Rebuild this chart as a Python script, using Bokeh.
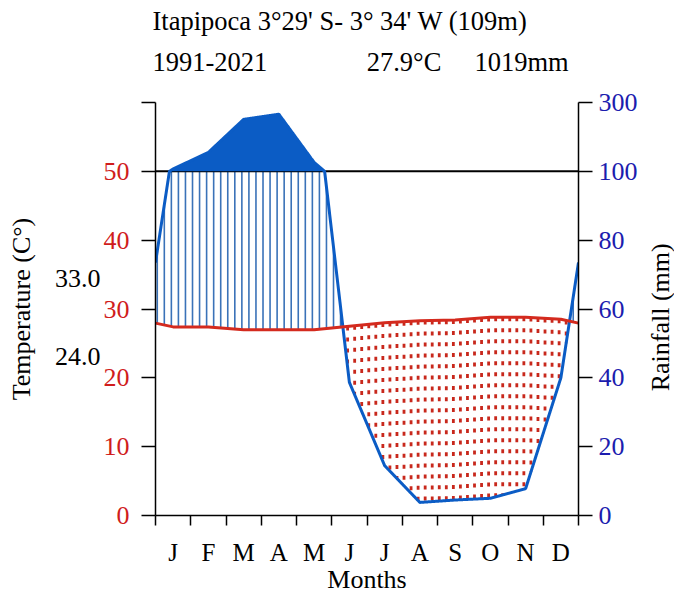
import math
import numpy as np
from bokeh.plotting import figure
from bokeh.layouts import row
from bokeh.models import LinearAxis, FixedTicker, Range1d, Title
from bokeh.core.properties import value
from bokeh.embed import file_html
from bokeh.resources import INLINE

# ---------------- data ----------------
months = ["J", "F", "M", "A", "M", "J", "J", "A", "S", "O", "N", "D"]
temp_c = [27.4, 27.4, 27.0, 27.0, 27.0, 27.5, 28.0, 28.3, 28.4, 28.8, 28.8, 28.5]
rain_mm = [107, 155, 251, 266, 126, 38.7, 14.5, 3.8, 4.5, 5.0, 7.8, 40.0]
station = "Itapipoca 3°29' S- 3° 34' W (109m)"
period = "1991-2021"
mean_temp_txt = "27.9°C"
annual_rain_txt = "1019mm"
extreme_txt = ["33.0", "24.0"]
extreme_pos = [34.4, 23.1]          # vertical placement (temperature scale)
temp_ticks = [0, 10, 20, 30, 40, 50, 60]
temp_tick_labels = ["0", "10", "20", "30", "40", "50", ""]
rain_tick_labels = ["0", "20", "40", "60", "80", "100", "300"]
rain_title = "Rainfall (mm)"

FONT = "Liberation Serif"
RED = "#d42a1e"
BLUE = "#0b5cc5"
HATCH = "#3a72b8"
DOT = "#c8281c"
RED_TXT = "#d01c1c"
BLUE_TXT = "#1c1cae"
NB = "\u00a0"

# ---------------- derived curves ----------------
xm = [0.0] + [i + 0.5 for i in range(12)] + [12.0]
edge_t = (temp_c[0] + temp_c[-1]) / 2
edge_p = (rain_mm[0] + rain_mm[-1]) / 2
T = [edge_t] + temp_c + [edge_t]
P = [edge_p] + rain_mm + [edge_p]

def scale_rain(mm):
    mm = np.asarray(mm, dtype=float)
    return np.where(mm <= 100, mm / 2.0, 50 + (mm - 100) / 20.0)

xs = np.linspace(0, 12, 2401)
Pd = np.interp(xs, xm, P)
Rs = scale_rain(Pd)

xh = np.arange(0.05, 12, 0.2)
th = np.interp(xh, xm, T)
rh = scale_rain(np.interp(xh, xm, P))
rh_c = np.minimum(rh, 50)
wet = rh_c > th
dry = th > rh

W_MAIN, W_SIDE, H = 644, 30, 596

p = figure(width=W_MAIN, height=H, x_range=Range1d(0, 12), y_range=Range1d(0, 60),
           output_backend="svg", toolbar_location=None,
           x_axis_type=None, y_axis_type=None,
           min_border_left=155, min_border_right=66, min_border_top=102, min_border_bottom=81)
p.outline_line_color = None
p.background_fill_color = "white"
p.border_fill_color = "white"

p.segment(x0=xh[wet], y0=th[wet], x1=xh[wet], y1=rh_c[wet], line_color=HATCH, line_width=1.6)
p.segment(x0=xh[dry], y0=th[dry], x1=xh[dry], y1=rh[dry], line_color=DOT, line_width=2.8,
          line_dash="4 7")
p.line(x=[0, 12], y=[50, 50], line_color="black", line_width=2)
p.varea(x=xs, y1=np.full_like(xs, 50.0), y2=np.maximum(Rs, 50), fill_color=BLUE)
p.line(x=xs, y=Rs, line_color=BLUE, line_width=3)
p.line(x=xm, y=T, line_color=RED, line_width=3)

# ---------------- axes ----------------
xa = LinearAxis(
    ticker=FixedTicker(ticks=[i + 0.5 for i in range(12)], minor_ticks=list(range(13))),
    major_label_overrides={i + 0.5: m for i, m in enumerate(months)},
    major_tick_out=0, major_tick_in=0, minor_tick_out=10, minor_tick_in=0,
    minor_tick_line_width=1.5, axis_line_width=1.5,
    major_label_standoff=13, major_label_text_font=FONT, major_label_text_font_size="25px",
    major_label_text_color="black",
    axis_label="Months", axis_label_text_font=FONT, axis_label_text_font_size="26px",
    axis_label_text_font_style="normal", axis_label_text_color="black", axis_label_standoff=-4)
p.add_layout(xa, "below")

ya = LinearAxis(
    ticker=FixedTicker(ticks=temp_ticks, minor_ticks=[]),
    major_label_overrides={t: l for t, l in zip(temp_ticks, temp_tick_labels)},
    major_tick_out=14, major_tick_in=0, major_tick_line_width=1.5, axis_line_width=1.5,
    major_label_standoff=12, major_label_text_font=FONT, major_label_text_font_size="26px",
    major_label_text_color=RED_TXT)
p.add_layout(ya, "left")

ea = LinearAxis(
    ticker=FixedTicker(ticks=extreme_pos, minor_ticks=[]),
    major_label_overrides={v: t for v, t in zip(extreme_pos, extreme_txt)},
    major_tick_out=0, major_tick_in=0, axis_line_color=None, major_tick_line_color=None,
    major_label_standoff=0, major_label_text_font=FONT, major_label_text_font_size="26px",
    major_label_text_color="black",
    axis_label="Temperature (C°)", axis_label_text_font=FONT, axis_label_text_font_size="26px",
    axis_label_text_font_style="normal", axis_label_text_color="black", axis_label_standoff=16)
p.add_layout(ea, "left")

ra = LinearAxis(
    ticker=FixedTicker(ticks=temp_ticks, minor_ticks=[]),
    major_label_overrides={t: l for t, l in zip(temp_ticks, rain_tick_labels)},
    major_tick_out=14, major_tick_in=0, major_tick_line_width=1.5, axis_line_width=1.5,
    major_label_standoff=6, major_label_text_font=FONT, major_label_text_font_size="26px",
    major_label_text_color=BLUE_TXT)
p.add_layout(ra, "right")

# ---------------- header (stacked titles, nearest to frame first) ----------------
p.add_layout(Title(text=NB, standoff=17, text_font=FONT, text_font_size="1px",
                   text_color="white"), "above")
line2 = period + NB * 15 + mean_temp_txt + NB * 5 + annual_rain_txt
p.add_layout(Title(text=line2, align="left", offset=-3, standoff=11, text_font=FONT,
                   text_font_size="26.5px", text_font_style="normal", text_color="black"), "above")
p.add_layout(Title(text=station, align="left", offset=-3, standoff=7, text_font=FONT,
                   text_font_size="26.5px", text_font_style="normal", text_color="black"), "above")

# ---------------- right-hand rotated axis title ----------------
side = figure(width=W_SIDE, height=H, x_range=Range1d(W_MAIN, W_MAIN + W_SIDE),
              y_range=Range1d(H, 0), output_backend="svg", toolbar_location=None,
              x_axis_type=None, y_axis_type=None, min_border=0)
side.outline_line_color = None
side.grid.visible = False
side.text(x=[660], y=[310], text=[rain_title], angle=math.pi / 2,
          text_font=value(FONT), text_font_size="26px", text_color="black",
          text_align="center", text_baseline="middle")

layout = row(p, side, spacing=0)
open("out.html", "w").write(file_html(layout, INLINE))
